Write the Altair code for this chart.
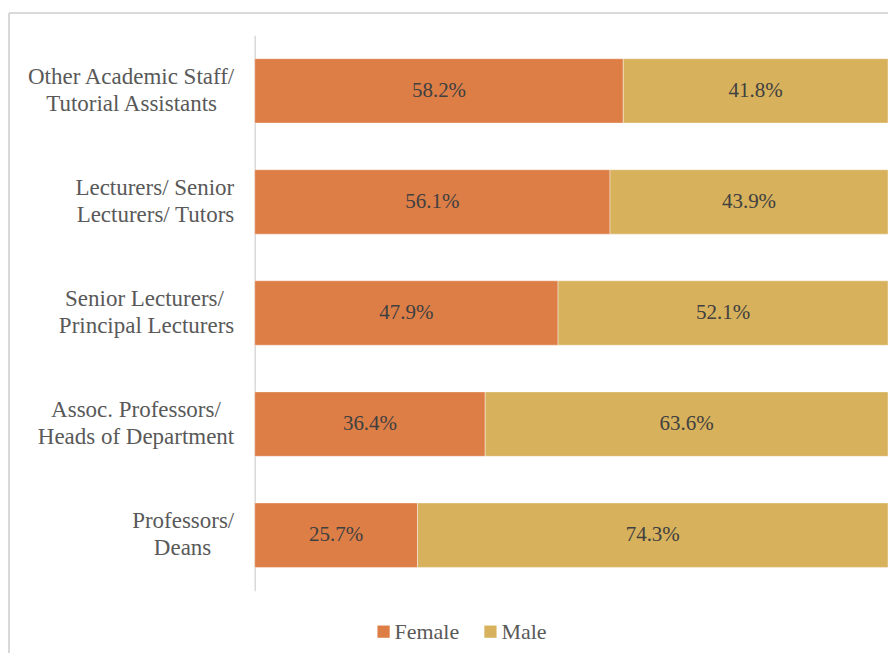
import altair as alt
import pandas as pd
import json

categories = [
    "Other Academic Staff/|Tutorial Assistants",
    "Lecturers/ Senior|Lecturers/ Tutors",
    "Senior Lecturers/|Principal Lecturers",
    "Assoc. Professors/|Heads of Department",
    "Professors/|Deans",
]
female = [58.2, 56.1, 47.9, 36.4, 25.7]
male = [41.8, 43.9, 52.1, 63.6, 74.3]
series = ["Female", "Male"]
colors = ["#DD7E47", "#D7B15C"]

# trailing spacing that centres the shorter line of each two-line label
NB, TH, HR, ZW = "\u00a0", "\u2009", "\u200a", "\u200b"
line_pad = [
    ("", NB * 3),
    ("", ""),
    (NB + TH, ""),
    (NB * 2 + HR, ""),
    ("", NB * 4),
]

rows = []
for c, f, m in zip(categories, female, male):
    rows.append({"cat": c, "series": "Female", "value": f, "ord": 0})
    rows.append({"cat": c, "series": "Male", "value": m, "ord": 1})
df = pd.DataFrame(rows)

expr = "''"
for c, pads in reversed(list(zip(categories, line_pad))):
    lines = [ln + (p + ZW if p else "") for ln, p in zip(c.split("|"), pads)]
    expr = f"datum.label == {json.dumps(c)} ? {json.dumps(lines)} : ({expr})"

FONT = "Liberation Serif"
W, H = 634, 556

base = alt.Chart(df).transform_stack(
    stack="value", groupby=["cat"], as_=["x0", "x1"], sort=[alt.SortField("ord")]
).transform_calculate(
    mid="(datum.x0 + datum.x1) / 2",
    lbl="format(datum.value, '.1f') + '%'",
)

y_enc = alt.Y(
    "cat:N",
    sort=categories,
    scale=alt.Scale(paddingInner=0.42, paddingOuter=0.21),
    axis=alt.Axis(
        title=None,
        labelExpr=expr,
        labelFont=FONT,
        labelFontSize=23,
        labelColor="#595959",
        labelLineHeight=27,
        labelPadding=21,
        labelOffset=-14,
        labelLimit=300,
        ticks=False,
        domainColor="#D9D9D9",
        domainWidth=1.5,
        grid=False,
    ),
)

bars = base.mark_bar(stroke="white", strokeWidth=1, strokeOpacity=0.4).encode(
    x=alt.X("x0:Q", scale=alt.Scale(domain=[0, 100], nice=False), axis=None),
    x2="x1:Q",
    y=y_enc,
    color=alt.Color(
        "series:N",
        scale=alt.Scale(domain=series, range=colors),
        legend=alt.Legend(
            title=None,
            orient="none",
            direction="horizontal",
            legendX=118,
            legendY=586,
            symbolType="square",
            symbolSize=150,
            symbolStrokeWidth=0,
            labelFont=FONT,
            labelFontSize=22,
            labelColor="#595959",
            columnPadding=20,
            labelOffset=0,
        ),
    ),
)

labels = base.mark_text(font=FONT, fontSize=21, color="#404040").encode(
    x=alt.X("mid:Q", scale=alt.Scale(domain=[0, 100], nice=False), axis=None),
    y=alt.Y("cat:N", sort=categories),
    text="lbl:N",
)

frame_top = alt.Chart(df).mark_rule(color="#D9D9D9", strokeWidth=1.5, clip=False).encode(
    x=alt.value(-246), x2=alt.value(W + 20), y=alt.value(-22)
)
frame_left = alt.Chart(df).mark_rule(color="#D9D9D9", strokeWidth=1.5, clip=False).encode(
    x=alt.value(-246), y=alt.value(-22), y2=alt.value(H + 80)
)

chart = alt.layer(frame_top, frame_left, bars, labels).properties(
    width=W,
    height=H,
    autosize=alt.AutoSizeParams(type="none"),
    padding={"left": 247, "top": 27, "right": 0, "bottom": 62},
).configure_view(stroke=None)

chart.save("out.html", embed_options={"renderer": "svg", "actions": False})
